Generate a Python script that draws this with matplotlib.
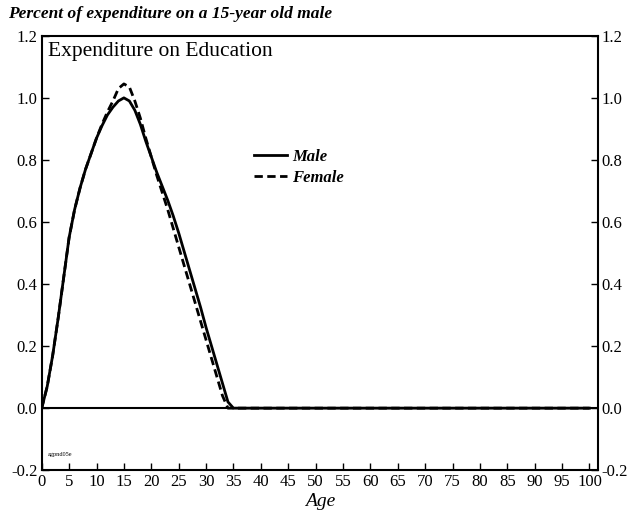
import numpy as np
import matplotlib
matplotlib.use("Agg")
import matplotlib.pyplot as plt

# Education expenditure by age, relative to a 15-year-old male (=1.0)
ages = list(range(0, 36)) + [40, 50, 60, 70, 80, 90, 100]
male = [0.0, 0.07, 0.17, 0.29, 0.42, 0.55, 0.64, 0.71, 0.77, 0.82,
        0.87, 0.91, 0.945, 0.97, 0.99, 1.0, 0.99, 0.96, 0.915, 0.86,
        0.81, 0.76, 0.715, 0.67, 0.62, 0.565, 0.505, 0.445, 0.385, 0.325,
        0.26, 0.20, 0.14, 0.08, 0.02, 0.0,
        0.0, 0.0, 0.0, 0.0, 0.0, 0.0, 0.0]
female = [0.0, 0.07, 0.17, 0.29, 0.42, 0.55, 0.64, 0.71, 0.77, 0.82,
          0.87, 0.915, 0.955, 0.99, 1.03, 1.045, 1.035, 0.99, 0.935, 0.87,
          0.81, 0.75, 0.695, 0.64, 0.58, 0.52, 0.46, 0.40, 0.34, 0.28,
          0.22, 0.16, 0.10, 0.04, 0.0, 0.0,
          0.0, 0.0, 0.0, 0.0, 0.0, 0.0, 0.0]

x_ticks = list(range(0, 101, 5))
y_ticks = [-0.2, 0.0, 0.2, 0.4, 0.6, 0.8, 1.0, 1.2]

serif = "Liberation Serif"

fig = plt.figure(figsize=(6.42, 5.19), dpi=100)
ax = fig.add_axes([0.065, 0.094, 0.866, 0.837])

ax.axhline(0, color="black", linewidth=1.5, zorder=1)
ax.plot(ages, male, color="black", linewidth=2.0, label="Male", zorder=3)
ax.plot(ages, female, color="black", linewidth=2.0, linestyle=(0, (3, 1.6)),
        label="Female", zorder=2)

ax.set_xlim(0, 101.5)
ax.set_ylim(-0.2, 1.2)
ax.set_xticks(x_ticks)
ax.set_yticks(y_ticks)
ax.set_yticklabels([f"{v:.1f}" for v in y_ticks])
ax.tick_params(axis="both", direction="in", length=5, width=1.0,
               labelsize=12, top=False, right=True, labelright=True)
ax.tick_params(axis="x", pad=3)
ax.tick_params(axis="y", pad=3)
for lab in ax.get_xticklabels() + ax.get_yticklabels():
    lab.set_family(serif)
for t in ax.yaxis.get_major_ticks():
    t.label2.set_family(serif)

for sp in ax.spines.values():
    sp.set_linewidth(1.5)

ax.set_xlabel("Age", family=serif, style="italic", fontsize=14, labelpad=2)

ax.text(0.012, 0.985, "Expenditure on Education", transform=ax.transAxes,
        ha="left", va="top", family=serif, fontsize=15.5)
ax.text(0.01, 0.03, "agpnd05e", transform=ax.transAxes, ha="left",
        va="bottom", family=serif, fontsize=4.5)

ax.legend(loc="upper left", bbox_to_anchor=(0.355, 0.775), frameon=False,
          handlelength=2.0, handletextpad=0.3, labelspacing=0.3,
          prop={"family": serif, "style": "italic", "weight": "bold", "size": 12})

fig.text(0.012, 0.988, "Percent of expenditure on a 15-year old male",
         ha="left", va="top", family=serif, style="italic", weight="bold",
         fontsize=12.5)

fig.savefig("out.png", dpi=100)
